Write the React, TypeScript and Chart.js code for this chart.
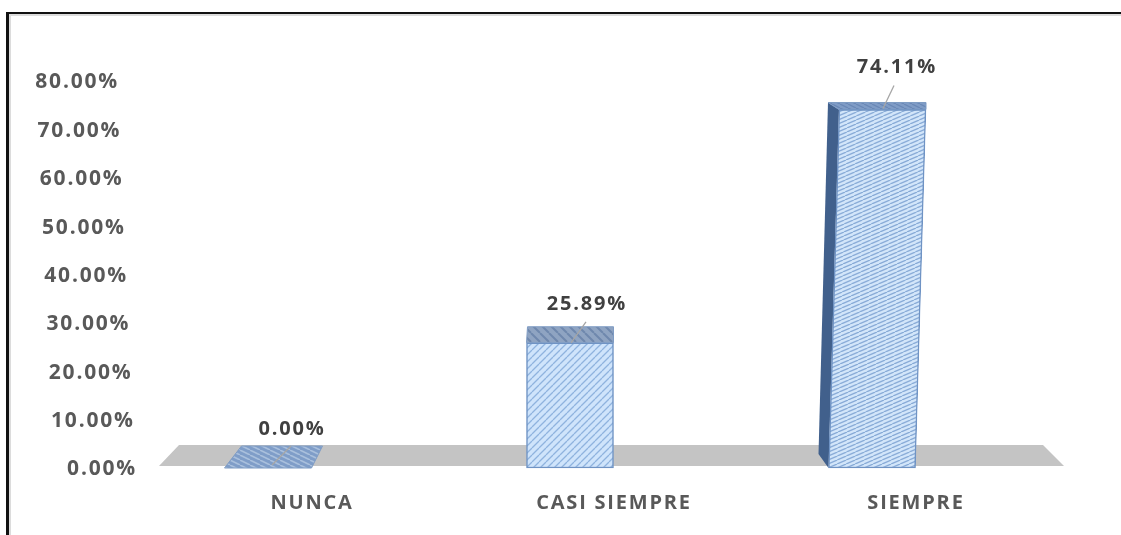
import React, { useEffect, useRef } from "react";
import { Chart, registerables } from "chart.js";

Chart.register(...registerables);

const categories = ["NUNCA", "CASI SIEMPRE", "SIEMPRE"];
const percentages = [0, 25.89, 74.11];
const valueLabels = ["0.00%", "25.89%", "74.11%"];
const FONT = '"Open Sans", sans-serif';

function hatch(bg: string, line: string, w: number, h: number, back = false, lw = 1.3) {
  const c = document.createElement("canvas");
  c.width = w;
  c.height = h;
  const g = c.getContext("2d")!;
  g.fillStyle = bg;
  g.fillRect(0, 0, w, h);
  g.strokeStyle = line;
  g.lineWidth = lw;
  g.beginPath();
  for (const dx of [-w, 0, w]) {
    if (back) {
      g.moveTo(dx, 0);
      g.lineTo(dx + w, h);
    } else {
      g.moveTo(dx, h);
      g.lineTo(dx + w, 0);
    }
  }
  g.stroke();
  return g.createPattern(c, "repeat")!;
}

// Per-bar perspective of the 3D view, in pixels.
const views = [
  { skew: 0, backLeft: 17, backRight: 11, depth: 22, lx: 24, ly: -39, side: 0, leader: [23, -22, 4, -3] },
  { skew: 0, backLeft: 1, backRight: 0, depth: 16, lx: 17, ly: -38, side: 0, leader: [16, -21, 1, 0] },
  { skew: 10.5, backLeft: -11, backRight: 0, depth: 7, lx: 25, ly: -42, side: 1, leader: [22, -24, 11, -1] },
];

function poly(ctx: CanvasRenderingContext2D, pts: number[][], fill: any, stroke?: string) {
  ctx.beginPath();
  pts.forEach((p, i) => (i ? ctx.lineTo(p[0], p[1]) : ctx.moveTo(p[0], p[1])));
  ctx.closePath();
  ctx.fillStyle = fill;
  ctx.fill();
  if (stroke) {
    ctx.strokeStyle = stroke;
    ctx.lineWidth = 1;
    ctx.stroke();
  }
}

const scene = {
  id: "scene",
  beforeDraw(chart: any) {
    const { ctx, scales, chartArea } = chart;
    ctx.letterSpacing = "1.8px";
    // the labels sit to the right of the plot's left edge, so no clipping to the axis box
    scales.y._computeLabelArea = () => undefined;
    // the value axis leans with the 3D view: labels drift left going up
    scales.y.getLabelItems(chartArea).forEach((item: any, i: number) => {
      const value = scales.y.ticks[i].value;
      if (!item.leaned) {
        item.options.translation[0] -= (value / 80) * 18;
        item.options.translation[1] += 1.5;
        item.leaned = true;
      }
    });
  },
  beforeDatasetsDraw(chart: any) {
    const { ctx, scales } = chart;
    const y0 = scales.y.getPixelForValue(0);
    const first = scales.x.getPixelForValue(0);
    const last = scales.x.getPixelForValue(2);
    poly(ctx, [
      [first - 109, y0 - 2],
      [first - 89, y0 - 23],
      [last + 171, y0 - 23],
      [last + 192, y0 - 2],
    ], "#c4c4c4");
  },
  beforeDatasetDraw(chart: any, args: any) {
    const { ctx } = chart;
    const elements = args.meta.data;
    const tops = [
      hatch("#7f9dc8", "#a9bfdc", 10, 5, true, 1.6),
      hatch("#8fa4c2", "#6f88ad", 9, 9, true, 2),
      hatch("#7f9cc6", "#6a88b6", 8, 4, true, 1.2),
    ];
    elements.forEach((el: any, i: number) => {
      const v = views[i];
      const h = el.base - el.y;
      const k = h > 0 ? v.skew / h : 0;
      const l = el.x - el.width / 2;
      const r = el.x + el.width / 2;
      const tl = l + v.skew;
      const tr = r + v.skew;
      if (v.side) {
        poly(ctx, [
          [tl + v.backLeft, el.y - v.depth],
          [tl, el.y],
          [l, el.base],
          [l - 10, el.base - 14],
        ], "#41608c");
      }
      poly(ctx, [
        [tl, el.y],
        [tr, el.y],
        [tr + v.backRight, el.y - v.depth],
        [tl + v.backLeft, el.y - v.depth],
      ], tops[i], "#7f9cc4");
      ctx.save();
      ctx.transform(1, 0, -k, 1, k * el.base, 0);
      el.draw(ctx);
      ctx.restore();
    });
    return false;
  },
  afterDatasetsDraw(chart: any) {
    const { ctx } = chart;
    chart.getDatasetMeta(0).data.forEach((el: any, i: number) => {
      const v = views[i];
      const [sx, sy, ex, ey] = v.leader;
      ctx.strokeStyle = "#a6a6a6";
      ctx.lineWidth = 1.3;
      ctx.beginPath();
      ctx.moveTo(el.x + sx, el.y + sy);
      ctx.lineTo(el.x + ex, el.y + ey);
      ctx.stroke();
      ctx.fillStyle = "#404040";
      ctx.font = `bold 20px ${FONT}`;
      ctx.textAlign = "center";
      ctx.textBaseline = "middle";
      ctx.fillText(valueLabels[i], el.x + v.lx, el.y + v.ly);
    });
  },
};

export default function App() {
  const ref = useRef<HTMLCanvasElement>(null);
  useEffect(() => {
    const chart = new Chart(ref.current!, {
      type: "bar",
      data: {
        labels: categories,
        datasets: [
          {
            data: percentages,
            backgroundColor: [
              hatch("#cfe3f8", "#8fb2dc", 7, 7),
              hatch("#cfe4fb", "#8fb3de", 7, 7),
              hatch("#d3e6fa", "#86a9d6", 9, 4),
            ],
            borderColor: "#6f93c4",
            borderWidth: 1.5,
            borderSkipped: false,
            barThickness: 87,
          },
        ],
      },
      options: {
        animation: false,
        responsive: false,
        layout: { padding: { left: 0, right: 98, top: 81, bottom: 0 } },
        plugins: { legend: { display: false }, tooltip: { enabled: false } },
        scales: {
          x: {
            afterFit: (s: any) => {
              s.height = 67;
            },
            border: { display: false },
            grid: { display: false, drawTicks: false },
            ticks: {
              labelOffset: 44,
              padding: 23,
              color: "#595959",
              font: { family: FONT, weight: "bold", size: 20 },
            },
          },
          y: {
            min: 0,
            max: 80,
            afterFit: (s: any) => {
              s.width = 117;
            },
            border: { display: false },
            grid: { display: false, drawTicks: false },
            ticks: {
              stepSize: 10,
              padding: -20,
              color: "#595959",
              font: { family: FONT, weight: "bold", size: 21 },
              callback: (v: any) => Number(v).toFixed(2) + "%",
            },
          },
        },
      },
      plugins: [scene],
    } as any);
    return () => chart.destroy();
  }, []);
  return (
    <div style={{ position: "fixed", left: 0, top: 0, width: 1121, height: 535, background: "#fff", overflow: "hidden" }}>
      <div style={{ position: "absolute", left: 6, top: 12, width: 1200, height: 600, borderTop: "2px solid #111", borderLeft: "3px solid #111", boxShadow: "inset 2px 2px 0 #dcdcdc" }} />
      <canvas ref={ref} width={1121} height={535} style={{ position: "absolute", left: 0, top: 0 }} />
    </div>
  );
}
